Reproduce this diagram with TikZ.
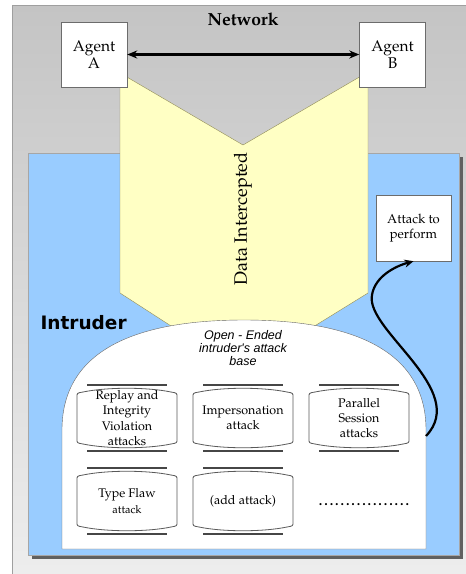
\documentclass[tikz,border=0pt]{standalone}
\usepackage[T1]{fontenc}
\usepackage{fontspec}
\usetikzlibrary{arrows.meta}
\newfontfamily\vsans{DejaVu Sans}
\newfontfamily\asans{Liberation Sans}
\newcommand\pal{\fontencoding{T1}\fontfamily{ppl}\selectfont}
\definecolor{netTop}{RGB}{196,196,196}
\definecolor{netBot}{RGB}{238,238,238}
\definecolor{intruBlue}{RGB}{153,204,255}
\definecolor{dataYellow}{RGB}{255,255,196}
\begin{document}
\begin{tikzpicture}[x=1pt, y=-1pt,
		agent/.style={draw=gray!85!black, fill=white, minimum width=66pt, minimum height=65pt, inner sep=0pt, align=center, font=\pal\fontsize{15.5}{17}\selectfont},
		attackbox/.style={align=center, font=\pal\fontsize{13}{15.5}\selectfont},
		tape/.style={draw=gray!70!black, fill=white, line width=0.8pt},
		tapeline/.style={draw=gray!55!black, line width=1.3pt}]
	\useasboundingbox (0,0) rectangle (466,574);
	\fill [white] (0,0) rectangle (466,574);
	% draw network
	\shade [top color=netTop, bottom color=netBot, draw=gray!75] (12,5) rectangle (480,585);
	\node [font=\pal\bfseries\fontsize{17.5}{20}\selectfont] (net) at (243,19) {Network};
	% draw intruder with its shadow
	\fill [gray!75!black] (32,157) rectangle (463,559);
	\draw [fill=intruBlue, draw=gray!70] (28,153) rectangle (459,555);
	\node [font=\vsans\bfseries\fontsize{18.5}{21}\selectfont, anchor=west] (intru) at (37,323) {Intruder};
	% data going down to the intruder
	\draw [fill=dataYellow, draw=gray!60!olive] (120,73) -- (243,145) -- (368,72) -- (368,293) -- (300,335) -- (185,335) -- (120,293) -- cycle;
	\node [rotate=90, font=\pal\fontsize{18}{21}\selectfont] (data) at (243,219) {Data Intercepted};
	% open ended attack base
	\draw [fill=white, draw=gray!80!black] (62,549) -- (62,430) .. controls (62,348) and (140,320) .. (244,320) .. controls (348,320) and (426,348) .. (426,430) -- (426,549) -- cycle;
	\coordinate (base) at (426,436);
	\node [align=center, font=\asans\itshape\fontsize{12.5}{13}\selectfont] (open) at (243,348) {Open - Ended\\intruder's attack\\base};
	% the attacks
	\foreach \nm/\cx/\cy/\txt in {replay/127/418/{Replay and\\Integrity\\Violation\\attacks},
			imper/243/418/{Impersonation\\attack},
			para/359/418/{Parallel\\Session\\attacks},
			flaw/127/501/{Type Flaw\\{\fontsize{11}{14}\selectfont attack}},
			add/243/501/{(add attack)}} {
		\draw [tape] (\cx-50,\cy-21) -- (\cx-50,\cy+21) .. controls (\cx-50,\cy+25) .. (\cx-44,\cy+26)
			.. controls (\cx-20,\cy+31) and (\cx+20,\cy+31) .. (\cx+44,\cy+26)
			.. controls (\cx+50,\cy+25) .. (\cx+50,\cy+21) -- (\cx+50,\cy-21)
			.. controls (\cx+50,\cy-25) .. (\cx+44,\cy-26)
			.. controls (\cx+20,\cy-31) and (\cx-20,\cy-31) .. (\cx-44,\cy-26)
			.. controls (\cx-50,\cy-25) .. cycle;
		\draw [tapeline] (\cx-40,\cy-33) -- (\cx+40,\cy-33);
		\draw [tapeline] (\cx-40,\cy+33) -- (\cx+40,\cy+33);
		\node [align=center, font=\pal\fontsize{12.5}{15.3}\selectfont] (\nm) at (\cx,\cy) {\txt};
	}
	\node [font=\pal\bfseries\fontsize{14}{16}\selectfont] (more) at (364,505) {\hbox to 92pt{\xleaders\hbox to 5.4pt{\hss.\hss}\hfill}};
	% agents and the attack to perform
	\node [agent] (agentA) at (94,54.5) {Agent\\A};
	\node [agent] (agentB) at (392.5,54.5) {Agent\\B};
	\node [agent, minimum width=75pt, minimum height=66pt, attackbox] (attack) at (413.5,228) {Attack to\\perform};
	\draw [line width=2.4pt, {Stealth[length=10pt,width=8pt]}-{Stealth[length=10pt,width=8pt]}] (agentA.east) -- (agentB.west);
	\draw [line width=2.2pt, -{Stealth[length=9pt,width=8pt]}] (base) .. controls (470,390) and (365,330) .. (372,295) .. controls (375,276) and (396,266) .. (attack.south);
\end{tikzpicture}
\end{document}
